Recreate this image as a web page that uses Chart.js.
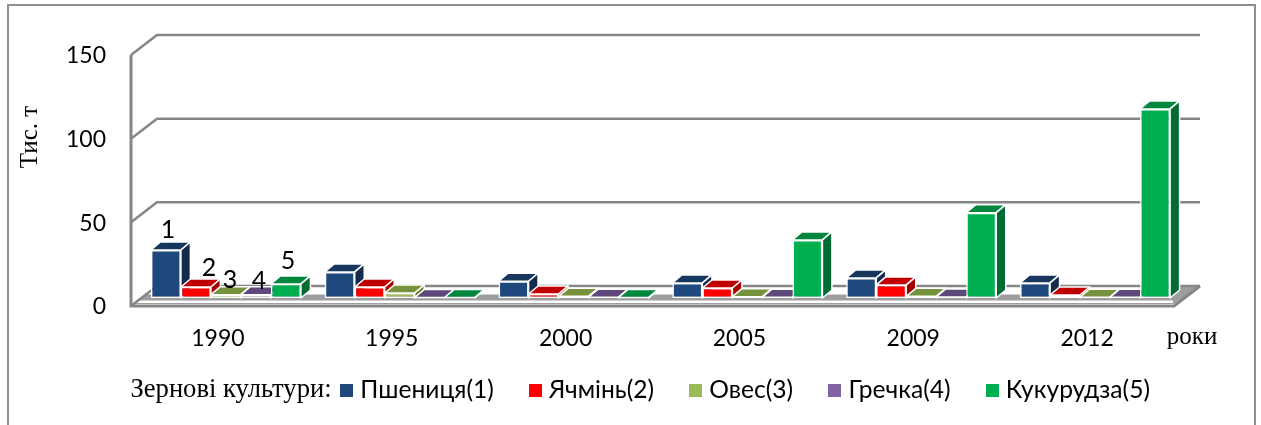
<!DOCTYPE html>
<html><head><meta charset="utf-8">
<style>html,body{margin:0;padding:0;background:#fff}canvas{display:block}</style>
<script src="https://cdn.jsdelivr.net/npm/chart.js@4"></script>
</head><body><canvas id="c" width="1261" height="425"></canvas>
<script>
const years = ['1990','1995','2000','2005','2009','2012'];
const wheat = [28.7,15.6,10,9,12,9];
const barley = [6.6,6.6,2.4,6,7.8,1.8];
const oats = [2,3,1,0.8,1,0.5];
const buckwheat = [2,0.3,0.5,0.5,0.6,0.5];
const corn = [8.4,0.3,0.3,34.7,51,113];
const seriesNames = ['Пшениця(1)','Ячмінь(2)','Овес(3)','Гречка(4)','Кукурудза(5)'];
const frontColors = ['#1F497D','#FF0000','#9BBB59','#8064A2','#00B050'];
const topColors = ['#17375E','#C00000','#76923C','#5F497A','#00863D'];
const sideColors = ['#132B4D','#A80000','#6A8434','#3F3151','#006B32'];
const yTicks = [0,50,100,150];
const seriesMarks = ['1','2','3','4','5'];

const SANS = 'Lato, "Open Sans", sans-serif', SERIF = '"Liberation Serif", serif';
const GRID = '#868686';
const D = {bx:9.5, by:8, fx:-8, fy:8, wx:18, wy:-12};
const LEGEND_PAD = 40, LEGEND_FONT = 24.6;

function line(ctx, pts, color, w){
  ctx.beginPath(); pts.forEach((p,i)=> i?ctx.lineTo(p[0],p[1]):ctx.moveTo(p[0],p[1]));
  ctx.strokeStyle=color; ctx.lineWidth=w; ctx.lineJoin='miter'; ctx.stroke();
}
function poly(ctx, pts, fill){
  ctx.beginPath(); pts.forEach((p,i)=> i?ctx.lineTo(p[0],p[1]):ctx.moveTo(p[0],p[1])); ctx.closePath();
  ctx.fillStyle=fill; ctx.fill(); ctx.strokeStyle='#fff'; ctx.lineWidth=1.5; ctx.lineJoin='round'; ctx.stroke();
}
function text(ctx, s, x, y, font, rot){
  ctx.save(); ctx.translate(x,y); if(rot) ctx.rotate(rot);
  ctx.font=font; ctx.fillStyle='#000'; ctx.textAlign='center'; ctx.textBaseline='middle';
  ctx.fillText(s,0,0); ctx.restore();
}
function swatch(color){
  const c = document.createElement('canvas'); c.width=13; c.height=13;
  const g = c.getContext('2d'); g.fillStyle=color; g.fillRect(0,0,13,13);
  return c;
}
const swatches = frontColors.map(swatch);

const scene = {
  id:'scene',
  beforeLayout(chart){
    const lg = chart.legend;
    if(!lg._fixedFit){
      const fit = lg.fit;
      lg.fit = function(){ fit.call(this); this.height = 60; };
      lg._fixedFit = true;
    }
  },
  afterLayout(chart){
    const lg = chart.legend;
    lg.left = 345 - LEGEND_PAD;
    lg.right = 1261;
    lg.top = 378 - LEGEND_PAD;
  },
  beforeDatasetsDraw(chart){
    const {ctx, chartArea:a, scales:{y}} = chart;
    ctx.save();
    line(ctx, [[8,425],[8,5],[1255,5],[1255,425]], '#8F8F8F', 2);
    const fl = a.left+D.fx, fr = a.right+D.fx, bl = a.left+D.wx, br = a.right+D.wx;
    const y0 = y.getPixelForValue(0);
    ctx.beginPath();
    ctx.moveTo(fl, y0+D.fy-2); ctx.lineTo(fr, y0+D.fy-2); ctx.lineTo(br, y0+D.wy); ctx.lineTo(bl, y0+D.wy); ctx.closePath();
    ctx.fillStyle='#9E9E9E'; ctx.fill();
    ctx.fillStyle='#fff';
    ctx.fillRect(bl-8, y0+D.wy, br-bl-18, 8.5);
    ctx.fillRect(fl+3, y0+2.5, fr-fl-4, 2.5);
    yTicks.forEach(v=>{
      const p = y.getPixelForValue(v);
      line(ctx, [[fl,p+D.fy],[bl,p+D.wy],[br,p+D.wy]], GRID, 2.5);
    });
    line(ctx, [[fl,y.getPixelForValue(150)+D.fy],[fl,y0+D.fy],[fr,y0+D.fy],[br,y0+D.wy]], GRID, 3);
    years.forEach((_,i)=>{
      chart.data.datasets.forEach((ds,k)=>{
        const b = chart.getDatasetMeta(k).data[i];
        const l=b.x-b.width/2, r=b.x+b.width/2, t=b.y, bt=b.base;
        poly(ctx, [[l,t],[l+D.bx,t-D.by],[r+D.bx,t-D.by],[r,t]], topColors[k]);
        poly(ctx, [[r,t],[r+D.bx,t-D.by],[r+D.bx,bt-D.by],[r,bt]], sideColors[k]);
      });
    });
    ctx.restore();
  },
  afterDatasetsDraw(chart){
    const {ctx} = chart;
    const off = [[2,-20],[13,-19],[4,-15],[3,-14],[2,-23]];
    seriesMarks.forEach((m,k)=>{
      const b = chart.getDatasetMeta(k).data[0];
      text(ctx, m, b.x+off[k][0], b.y+off[k][1], '25px '+SANS);
    });
    text(ctx, 'Тис. т', 30, 137, '25px '+SERIF, -Math.PI/2);
    text(ctx, 'роки', 1192, 337, '25px '+SERIF);
    text(ctx, 'Зернові культури:', 231, 390, '26.6px '+SERIF);
  }
};

new Chart(document.getElementById('c'), {
  type:'bar',
  data:{labels:years, datasets:[wheat,barley,oats,buckwheat,corn].map((d,k)=>({
    label:seriesNames[k], data:d, backgroundColor:frontColors[k], borderColor:'#fff', borderWidth:1.5,
    borderSkipped:false, categoryPercentage:0.863, barPercentage:1
  }))},
  options:{
    responsive:false, animation:false, events:[],
    layout:{padding:{top:47,right:79,left:0,bottom:0}},
    plugins:{
      tooltip:{enabled:false}, title:{display:false},
      legend:{display:true, position:'bottom', align:'start',
        labels:{usePointStyle:true, boxWidth:3, boxHeight:3, padding:LEGEND_PAD, color:'#000', font:{family:SANS,size:LEGEND_FONT},
          generateLabels(chart){
            return chart.data.datasets.map((ds,i)=>({text:ds.label, pointStyle:swatches[i], fillStyle:frontColors[i], strokeStyle:frontColors[i], lineWidth:0, datasetIndex:i}));
          }}}
    },
    scales:{
      x:{grid:{display:false}, border:{display:false},
        ticks:{color:'#000', font:{family:SANS,size:23}, padding:19, labelOffset:-8, maxRotation:0},
        afterFit(s){ s.height = 67; }},
      y:{min:0,max:150, grid:{display:false}, border:{display:false},
        afterBuildTicks(s){ s.ticks = yTicks.map(v=>({value:v})); },
        ticks:{color:'#000', font:{family:SANS,size:23}, padding:25, labelOffset:9},
        afterFit(s){ s.width = 139; }}
    }
  },
  plugins:[scene]
});
</script></body></html>
